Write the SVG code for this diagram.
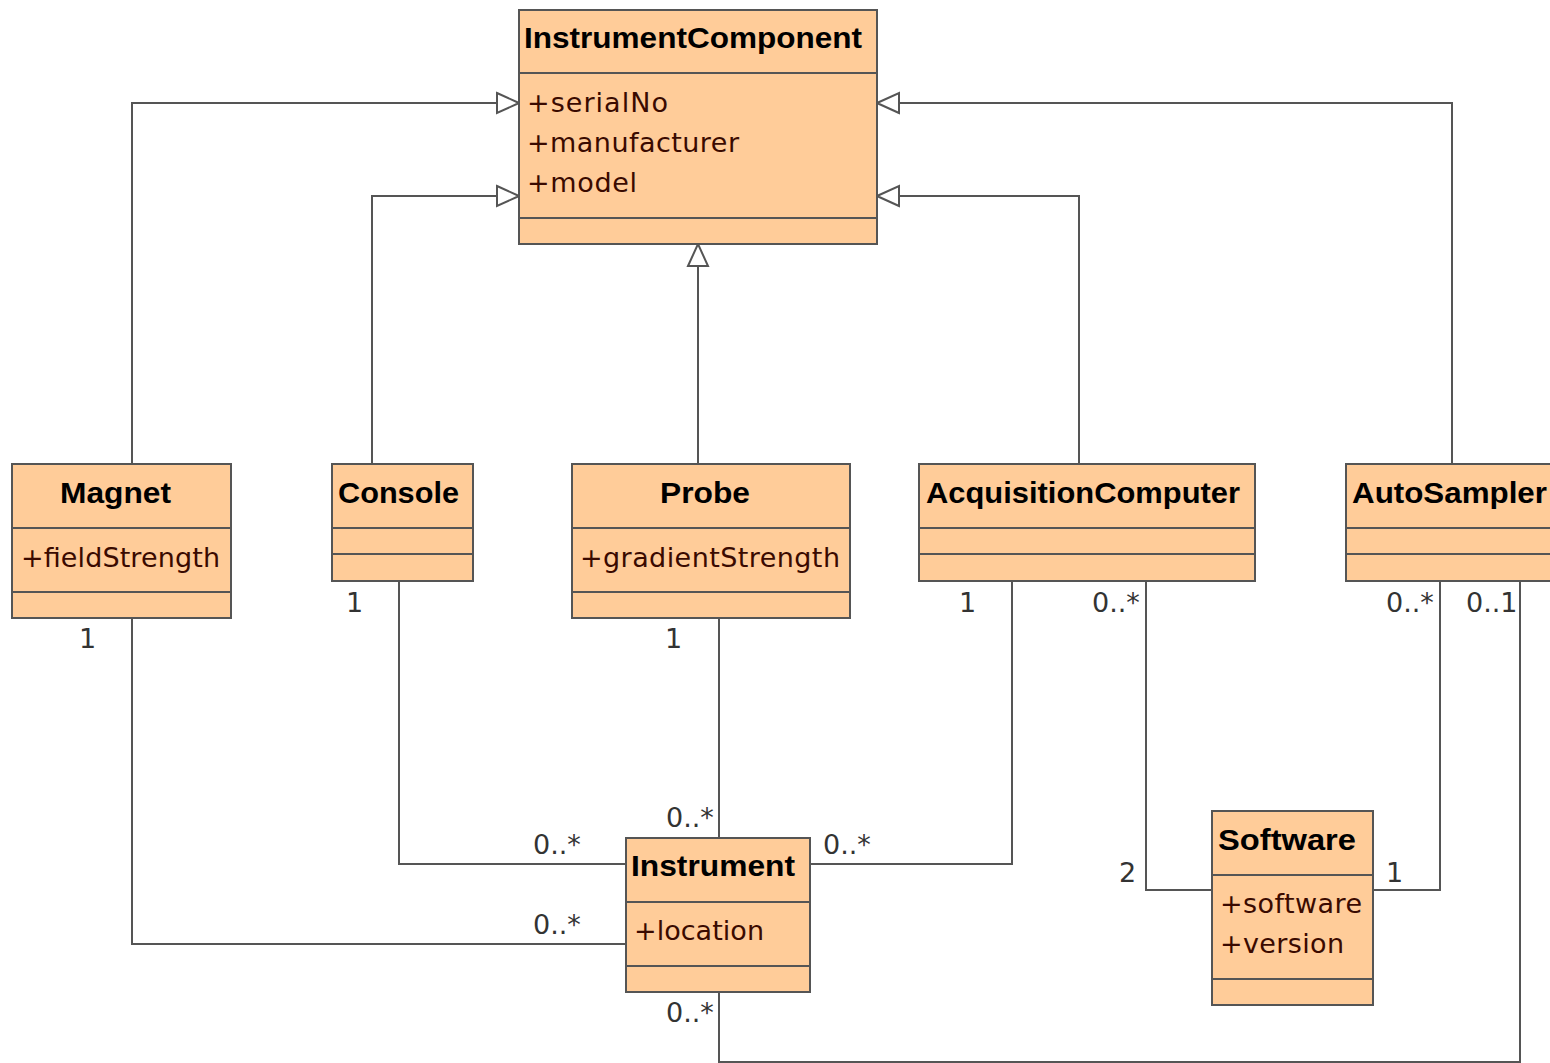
<svg xmlns="http://www.w3.org/2000/svg" width="1550" height="1063" viewBox="0 0 1550 1063">
<style>
.box{fill:#FFCC99;stroke:#555;stroke-width:2}
.sep{stroke:#555;stroke-width:2}
.title{font-family:"Liberation Sans",Arial,sans-serif;font-weight:bold;font-size:30px;fill:#000}
.attr{font-family:"DejaVu Sans",sans-serif;font-size:27px;fill:#3a0a00}
.lbl{font-family:"DejaVu Sans",sans-serif;font-size:27px;fill:#333}
.edge{fill:none;stroke:#555;stroke-width:2}
</style>
<defs>
<marker id="gen" viewBox="0 0 24 24" refX="23" refY="12" markerWidth="24" markerHeight="24" markerUnits="userSpaceOnUse" orient="auto">
<path d="M1,2 L23,12 L1,22 Z" fill="#fff" stroke="#555" stroke-width="2"/>
</marker>
</defs>
<rect width="1550" height="1063" fill="#fff"/>
<g id="connectors">
<path class="edge" d="M132,464 V103 H519" marker-end="url(#gen)"/>
<path class="edge" d="M372,464 V196 H519" marker-end="url(#gen)"/>
<path class="edge" d="M698,464 V244" marker-end="url(#gen)"/>
<path class="edge" d="M1079,464 V196 H877" marker-end="url(#gen)"/>
<path class="edge" d="M1452,464 V103 H877" marker-end="url(#gen)"/>
<path class="edge" d="M132,618 V944 H626"/>
<path class="edge" d="M399,581 V864 H626"/>
<path class="edge" d="M719,618 V838"/>
<path class="edge" d="M1012,581 V864 H810"/>
<path class="edge" d="M1146,581 V890 H1212"/>
<path class="edge" d="M1440,581 V890 H1373"/>
<path class="edge" d="M1520,581 V1062 H719 V992"/>
<text class="lbl" x="79" y="648">1</text>
<text class="lbl" x="533" y="934">0..*</text>
<text class="lbl" x="346" y="612">1</text>
<text class="lbl" x="533" y="854">0..*</text>
<text class="lbl" x="665" y="648">1</text>
<text class="lbl" x="666" y="827">0..*</text>
<text class="lbl" x="959" y="612">1</text>
<text class="lbl" x="823" y="854">0..*</text>
<text class="lbl" x="1092" y="612">0..*</text>
<text class="lbl" x="1119" y="882">2</text>
<text class="lbl" x="1386" y="612">0..*</text>
<text class="lbl" x="1386" y="882">1</text>
<text class="lbl" x="1466" y="612">0..1</text>
<text class="lbl" x="666" y="1022">0..*</text>
</g>
<g id="InstrumentComponent">
<rect class="box" x="519" y="10" width="358" height="234"/>
<line class="sep" x1="519" y1="73" x2="877" y2="73"/>
<line class="sep" x1="519" y1="218" x2="877" y2="218"/>
<text class="title" x="524" y="48" textLength="338" lengthAdjust="spacingAndGlyphs">InstrumentComponent</text>
<text class="attr" x="527" y="112" textLength="141">+serialNo</text>
<text class="attr" x="527" y="152" textLength="212">+manufacturer</text>
<text class="attr" x="527" y="192" textLength="110">+model</text>
</g>
<g id="Magnet">
<rect class="box" x="12" y="464" width="219" height="154"/>
<line class="sep" x1="12" y1="528" x2="231" y2="528"/>
<line class="sep" x1="12" y1="592" x2="231" y2="592"/>
<text class="title" x="60" y="503" textLength="111" lengthAdjust="spacingAndGlyphs">Magnet</text>
<text class="attr" x="21" y="567" textLength="199">+fieldStrength</text>
</g>
<g id="Console">
<rect class="box" x="332" y="464" width="141" height="117"/>
<line class="sep" x1="332" y1="528" x2="473" y2="528"/>
<line class="sep" x1="332" y1="554" x2="473" y2="554"/>
<text class="title" x="338" y="503" textLength="121" lengthAdjust="spacingAndGlyphs">Console</text>
</g>
<g id="Probe">
<rect class="box" x="572" y="464" width="278" height="154"/>
<line class="sep" x1="572" y1="528" x2="850" y2="528"/>
<line class="sep" x1="572" y1="592" x2="850" y2="592"/>
<text class="title" x="660" y="503" textLength="90" lengthAdjust="spacingAndGlyphs">Probe</text>
<text class="attr" x="580" y="567" textLength="260">+gradientStrength</text>
</g>
<g id="AcquisitionComputer">
<rect class="box" x="919" y="464" width="336" height="117"/>
<line class="sep" x1="919" y1="528" x2="1255" y2="528"/>
<line class="sep" x1="919" y1="554" x2="1255" y2="554"/>
<text class="title" x="926" y="503" textLength="314" lengthAdjust="spacingAndGlyphs">AcquisitionComputer</text>
</g>
<g id="AutoSampler">
<rect class="box" x="1346" y="464" width="220" height="117"/>
<line class="sep" x1="1346" y1="528" x2="1566" y2="528"/>
<line class="sep" x1="1346" y1="554" x2="1566" y2="554"/>
<text class="title" x="1352" y="503" textLength="195" lengthAdjust="spacingAndGlyphs">AutoSampler</text>
</g>
<g id="Instrument">
<rect class="box" x="626" y="838" width="184" height="154"/>
<line class="sep" x1="626" y1="902" x2="810" y2="902"/>
<line class="sep" x1="626" y1="966" x2="810" y2="966"/>
<text class="title" x="631" y="876" textLength="164" lengthAdjust="spacingAndGlyphs">Instrument</text>
<text class="attr" x="634" y="940" textLength="130">+location</text>
</g>
<g id="Software">
<rect class="box" x="1212" y="811" width="161" height="194"/>
<line class="sep" x1="1212" y1="875" x2="1373" y2="875"/>
<line class="sep" x1="1212" y1="979" x2="1373" y2="979"/>
<text class="title" x="1218" y="850" textLength="138" lengthAdjust="spacingAndGlyphs">Software</text>
<text class="attr" x="1220" y="913" textLength="142">+software</text>
<text class="attr" x="1220" y="953" textLength="124">+version</text>
</g>
</svg>
